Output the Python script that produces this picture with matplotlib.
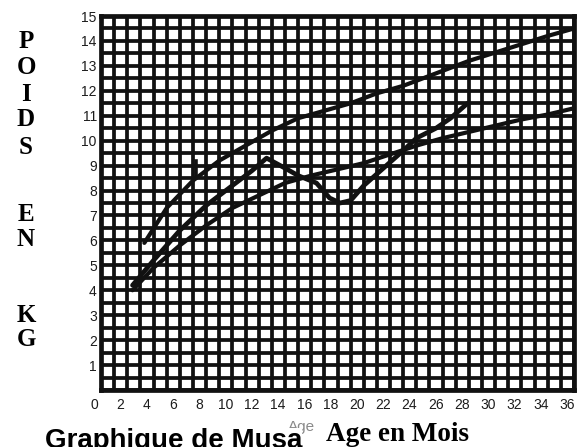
import numpy as np
import matplotlib
matplotlib.use("Agg")
import matplotlib.pyplot as plt
from matplotlib.transforms import ScaledTranslation

# reference curves (age in months, weight in kg)
upper_age = [3.3, 5, 7, 9, 11, 13, 15, 17, 19, 21, 23, 25, 28, 31, 34, 36]
upper_kg = [5.9, 7.3, 8.4, 9.2, 9.8, 10.4, 10.9, 11.2, 11.5, 11.9, 12.2, 12.6, 13.2, 13.7, 14.2, 14.5]

lower_age = [2.4, 4, 6, 8, 10, 12, 14, 16, 18, 20, 22, 24, 26, 28, 30, 32, 34, 36]
lower_kg = [4.0, 4.9, 5.8, 6.6, 7.3, 7.8, 8.3, 8.6, 8.85, 9.1, 9.45, 9.8, 10.1, 10.35, 10.6, 10.85, 11.05, 11.3]

# Musa's weights
musa_age = [2.4, 4, 6, 8, 10, 11.5, 12.6, 14, 15, 16.4, 17.4, 18.2, 19, 20, 21.5, 23, 24, 25.5, 26.6, 27.9]
musa_kg = [4.2, 5.2, 6.4, 7.4, 8.2, 8.8, 9.3, 8.9, 8.6, 8.3, 7.7, 7.5, 7.6, 8.2, 8.9, 9.6, 10.1, 10.5, 10.9, 11.5]

# little pen mark above the upper curve
notch_age = [7.2, 7.2]
notch_kg = [8.6, 9.2]

x_ticks = list(range(0, 37, 2))
y_ticks = list(range(1, 16))
side_letters = ["P", "O", "I", "D", "S", "E", "N", "K", "G"]
letter_rows = [42, 68, 94, 120, 147, 215, 240, 315, 340]   # pixel rows

W, H = 588, 447
fig = plt.figure(figsize=(W / 100, H / 100), dpi=100)
ax = fig.add_axes([101 / W, (H - 390) / H, 473 / W, 374 / H])

ax.set_xlim(0, 36)
ax.set_ylim(0, 15)
ax.set_xticks(x_ticks)
ax.set_xticks(np.arange(0, 37, 1), minor=True)
ax.set_yticks(y_ticks)
ax.set_yticks(np.arange(0, 15.5, 0.5), minor=True)
ax.grid(which="both", color="#111111", lw=2.7)
ax.set_axisbelow(True)
ax.tick_params(which="both", length=0)
ax.tick_params(axis="y", pad=3)
ax.tick_params(axis="x", pad=6)
for lab in ax.get_xticklabels() + ax.get_yticklabels():
    lab.set_fontfamily("Liberation Sans")
    lab.set_fontsize(10)
    lab.set_color("#1c1c1c")
shift = ScaledTranslation(-7 / 100, 0, fig.dpi_scale_trans)
for lab in ax.get_xticklabels():
    lab.set_transform(lab.get_transform() + shift)
for s in ax.spines.values():
    s.set_linewidth(3.4)
    s.set_color("#111111")

ax.plot(upper_age, upper_kg, color="#111111", lw=3.0, solid_capstyle="round", zorder=3)
ax.plot(lower_age, lower_kg, color="#111111", lw=3.0, solid_capstyle="round", zorder=3)
ax.plot(musa_age, musa_kg, color="#111111", lw=3.4, solid_capstyle="round",
        solid_joinstyle="round", zorder=4)
ax.plot(notch_age, notch_kg, color="#111111", lw=2.6, zorder=4)

for letter, row in zip(side_letters, letter_rows):
    fig.text(26 / W, 1 - row / H, letter, ha="center", va="center",
             family="Liberation Serif", weight="bold", fontsize=18)

# faded "Age" from the scan, partly hidden behind the caption
fig.text(288 / W, 1 - 420 / H, "Age", ha="left", va="top", family="Liberation Sans",
         fontsize=11, color="#8a8a8a", zorder=1)
fig.text(45 / W, 1 - 428 / H, "Graphique de Musa", ha="left", va="top",
         family="Liberation Sans", weight="bold", fontsize=20, zorder=5,
         bbox=dict(facecolor="white", edgecolor="none", pad=0))
fig.text(326 / W, 1 - 441 / H, "Age en Mois", ha="left", va="baseline",
         family="Liberation Serif", weight="bold", fontsize=19.5, zorder=6)

fig.savefig("out.png", dpi=100)
